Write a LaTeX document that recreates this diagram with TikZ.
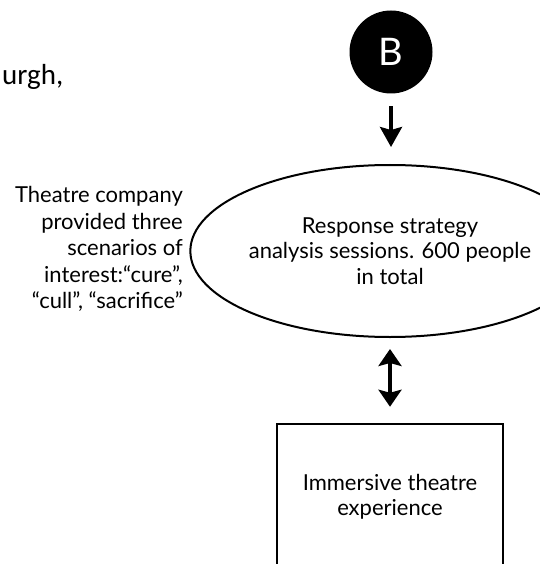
\documentclass[tikz,border=0pt]{standalone}
\usepackage{fontspec}
\setmainfont{Lato}
\newfontfamily\calfont{Carlito}
\usetikzlibrary{arrows.meta,shapes.geometric}
\begin{document}
\begin{tikzpicture}[x=1pt,y=-1pt,
  bodytext/.style={font=\fontsize{22}{25.5}\selectfont, text=black},
  ovalnode/.style={draw, line width=2pt, ellipse, minimum width=295pt, minimum height=172pt, inner sep=0pt, align=center, bodytext},
  boxnode/.style={draw, line width=2.5pt, rectangle, minimum width=226pt, minimum height=146pt, align=center, bodytext},
  startnode/.style={circle, fill=black, minimum size=83pt, inner sep=0pt, text=white, font=\fontsize{38}{40}\selectfont},
  flowarrow/.style={line width=3.5pt, -{Stealth[length=20pt,width=22pt,inset=3pt]}},
  botharrow/.style={line width=3.5pt, {Stealth[length=17pt,width=23pt,inset=3pt]}-{Stealth[length=17pt,width=23pt,inset=3pt]}}
]
\useasboundingbox (0,0) rectangle (539,564);
\node[startnode] (B) at (391,52) {B};
\node[ovalnode] (resp) at (390,251) {Response strategy\\analysis sessions. 600 people\\in total};
\node[boxnode] (imm) at (390,497) {Immersive theatre\\experience};
\node[bodytext, font=\fontsize{22}{26.5}\selectfont, anchor=east, align=right, inner sep=0pt] (theatre) at (183,249) {Theatre company\\provided three\\scenarios of\\interest:“cure”,\\“cull”, “sacrifice”};
\node[anchor=base west, font=\calfont\fontsize{29}{31}\selectfont, inner sep=0pt] (place) at (2,85) {urgh,};
\draw[flowarrow, shorten <=12.5pt, shorten >=17pt] (B.south) -- (B.south |- resp.north);
\draw[botharrow, shorten <=11pt, shorten >=16pt] (resp.south) -- (resp.south |- imm.north);
\end{tikzpicture}
\end{document}
